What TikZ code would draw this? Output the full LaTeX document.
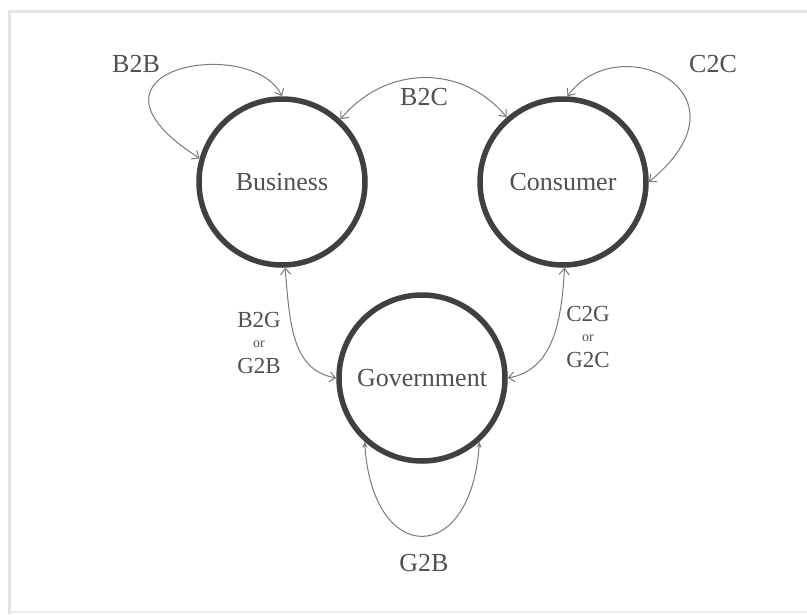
\documentclass[tikz,border=0pt]{standalone}
\usepackage{fontspec}
\setmainfont{Liberation Serif}
\usetikzlibrary{arrows.meta}
\definecolor{ringcol}{HTML}{404040}
\definecolor{linkcol}{HTML}{7A7A7A}
\definecolor{textcol}{HTML}{505050}
\definecolor{framecol}{HTML}{E4E4E4}
\begin{document}
\begin{tikzpicture}[x=1pt,y=-1pt,
  party/.style={circle, draw=ringcol, line width=5.5pt, minimum size=166pt,
    inner sep=0pt, text=textcol, font=\fontsize{26}{30}\selectfont},
  link/.style={draw=linkcol, line width=1pt,
    {Straight Barb[length=6pt,width=10pt]}-{Straight Barb[length=6pt,width=10pt]}},
  selflink/.style={draw=linkcol, line width=1pt,
    {Stealth[length=6pt,width=5pt]}-{Stealth[length=6pt,width=5pt]}},
  lab/.style={text=textcol, inner sep=0pt, font=\fontsize{26}{30}\selectfont},
  sidelab/.style={text=textcol, inner sep=0pt, align=center,
    font=\fontsize{23}{25}\selectfont},
  small/.style={font=\fontsize{14}{16}\selectfont}
]
\useasboundingbox (0,0) rectangle (807,614);
% outer frame
\fill[white] (0,0) rectangle (807,614);
\draw[framecol, line width=3pt] (807,11) -- (9,11) -- (9,614);
\draw[framecol!70, line width=1.5pt] (9,612) -- (807,612);

% parties
\node[party] (bus) at (282,182) {Business};
\node[party] (con) at (563,182) {Consumer};
\node[party] (gov) at (422,378) {Government};

% relations
\draw[link] (bus.164) .. controls +(-140,-90) and +(-30,-62) .. (bus.90);
\draw[link] (bus.47) .. controls +(45,-54) and +(-45,-54) .. (con.131);
\draw[link] (con.0) .. controls +(110,-90) and +(50,-70) .. (con.87);
\draw[link] (bus.272) .. controls +(5,55) and +(-45,-8) .. (gov.180);
\draw[link] (con.271) .. controls +(-3,55) and +(45,-8) .. (gov.0);
\draw[selflink] (gov.228) .. controls +(8,125) and +(-8,125) .. (gov.312);

% labels
\node[lab] (lbb) at (136,64) {B2B};
\node[lab] (lcc) at (713,64) {C2C};
\node[lab] (lbc) at (424,97) {B2C};
\node[lab] (lgg) at (424,563) {G2B};
\node[sidelab] (lbg) at (259,343) {B2G\\[-5pt]{\fontsize{14}{16}\selectfont or}\\[1pt]G2B};
\node[sidelab] (lcg) at (588,337) {C2G\\[-5pt]{\fontsize{14}{16}\selectfont or}\\[1pt]G2C};
\end{tikzpicture}
\end{document}
